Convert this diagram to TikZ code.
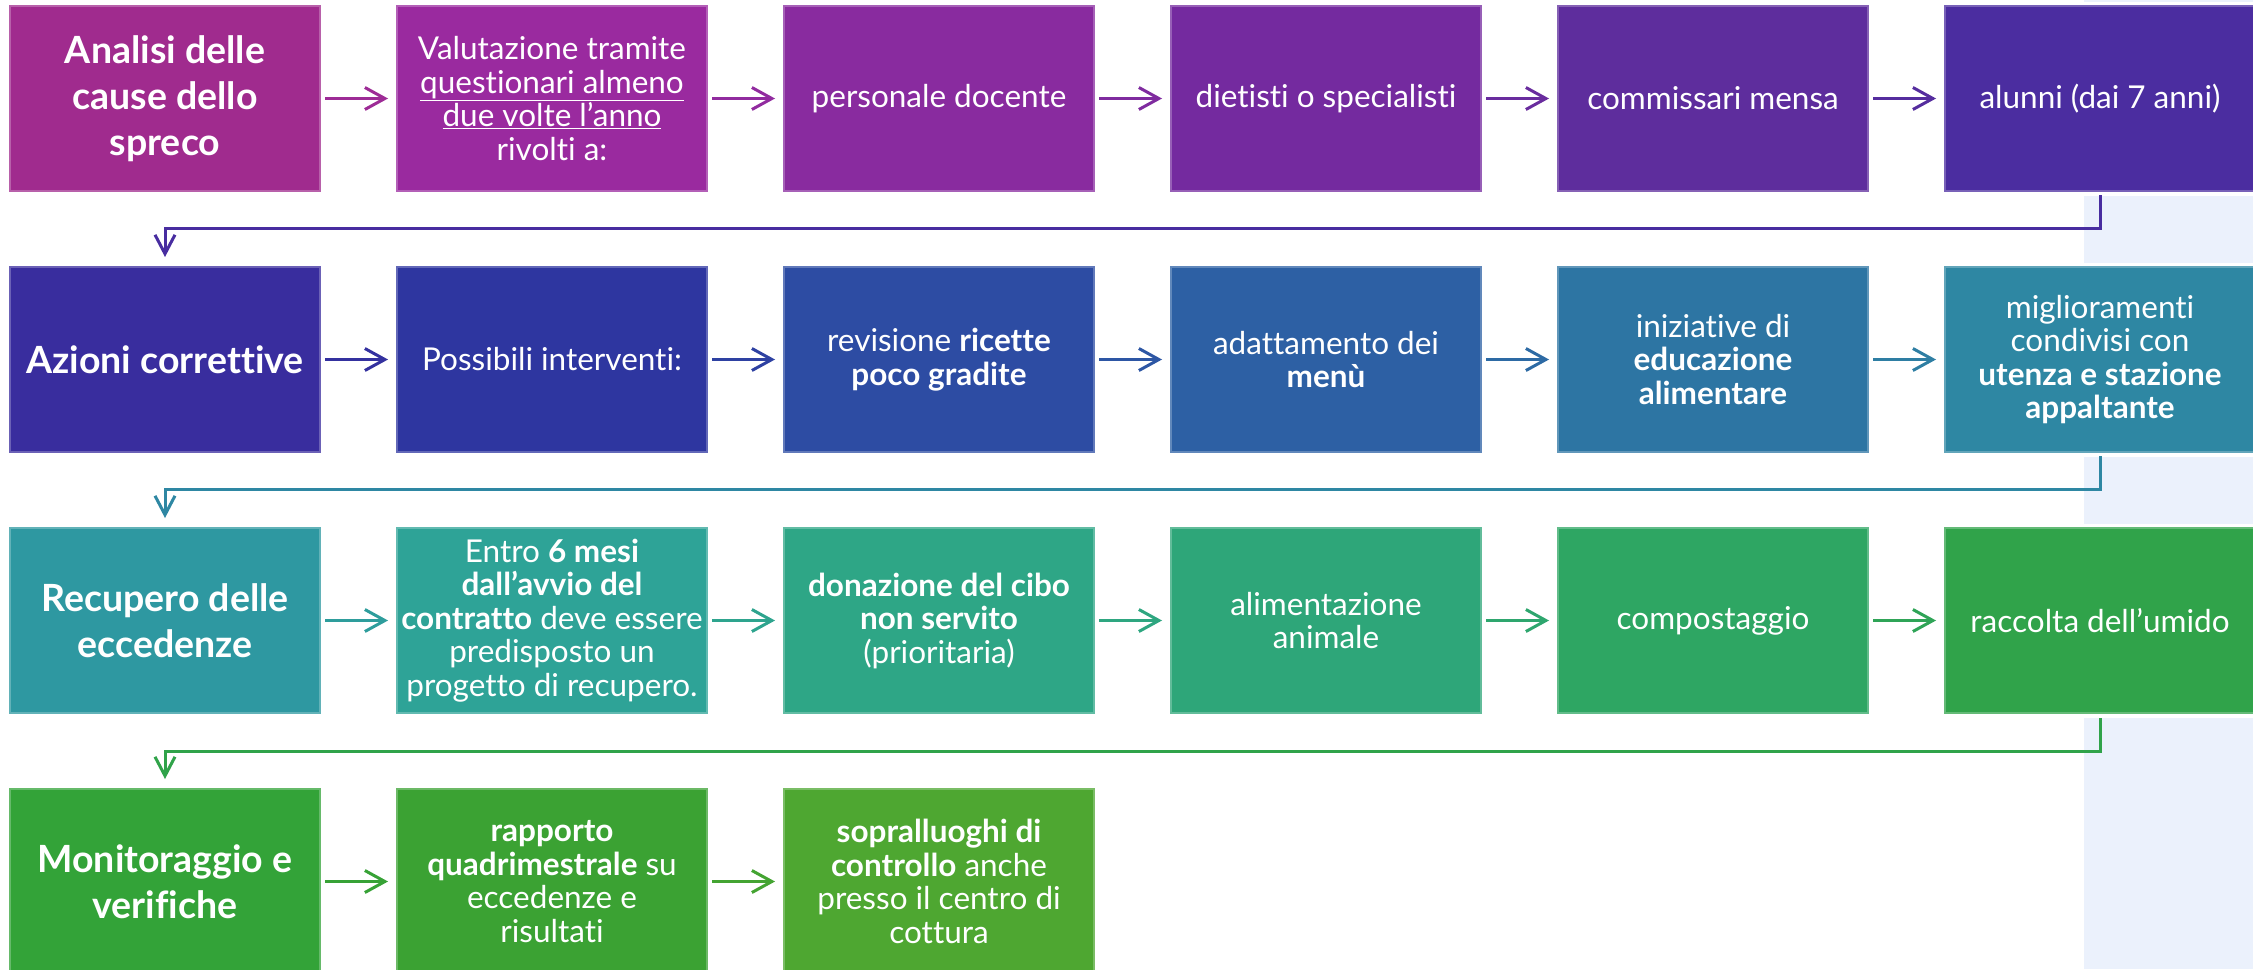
\documentclass[tikz,border=0pt]{standalone}
\usepackage{fontspec}
\setmainfont{Lato}[Ligatures={NoCommon,TeX}]
\usetikzlibrary{arrows.meta}
\definecolor{bgblue}{HTML}{EBF1FC}
\definecolor{ca1}{HTML}{A02B8E}
\definecolor{ca2}{HTML}{9A2A9F}
\definecolor{ca3}{HTML}{892B9F}
\definecolor{ca4}{HTML}{742A9F}
\definecolor{ca5}{HTML}{5E2D9D}
\definecolor{ca6}{HTML}{4B2DA0}
\definecolor{cb1}{HTML}{392D9E}
\definecolor{cb2}{HTML}{2E36A0}
\definecolor{cb3}{HTML}{2D4CA3}
\definecolor{cb4}{HTML}{2D60A4}
\definecolor{cb5}{HTML}{2D75A3}
\definecolor{cb6}{HTML}{2E87A3}
\definecolor{cc1}{HTML}{2E98A1}
\definecolor{cc2}{HTML}{2EA397}
\definecolor{cc3}{HTML}{2EA686}
\definecolor{cc4}{HTML}{2EA679}
\definecolor{cc5}{HTML}{2EA663}
\definecolor{cc6}{HTML}{30A34A}
\definecolor{cd1}{HTML}{33A338}
\definecolor{cd2}{HTML}{3BA233}
\definecolor{cd3}{HTML}{4EA731}
\tikzset{
  box/.style={rectangle, fill=#1, draw=#1!75!white, line width=1.5pt,
    preaction={draw=white, line width=9pt},
    minimum width=310pt, minimum height=185pt, inner sep=0pt, outer sep=0pt,
    text=white, align=center, font=\fontsize{31.5}{33.5}\selectfont},
  headbox/.style={box=#1, font=\bfseries\fontsize{37.5}{46}\selectfont},
  flow/.style={line width=3pt, -{Straight Barb[length=20pt,width=22pt]},
    shorten <=5pt, shorten >=9pt},
  jump/.style={line width=3pt, -{Straight Barb[length=19pt,width=20pt]},
    rounded corners=0pt}
}
\begin{document}
\begin{tikzpicture}[x=1pt,y=-1pt]
\useasboundingbox (0,0) rectangle (2253,969);
\clip (0,0) rectangle (2253,969);
\fill[white] (0,0) rectangle (2253,969);
\fill[bgblue] (2084,0) rectangle (2253,969);
% row 1
\node[headbox=ca1] (a1) at (165,98.5) {Analisi delle\\cause dello\\spreco};
\node[box=ca2] (a2) at (552,98.5) {Valutazione tramite\\\underline{questionari almeno}\\\underline{due volte l’anno}\\rivolti a:};
\node[box=ca3] (a3) at (939,98.5) {personale docente};
\node[box=ca4] (a4) at (1326,98.5) {dietisti o specialisti};
\node[box=ca5] (a5) at (1713,98.5) {commissari mensa};
\node[box=ca6] (a6) at (2100,98.5) {alunni (dai 7 anni)};
% row 2
\node[headbox=cb1] (b1) at (165,359.5) {Azioni correttive};
\node[box=cb2] (b2) at (552,359.5) {Possibili interventi:};
\node[box=cb3] (b3) at (939,359.5) {revisione \textbf{ricette}\\\textbf{poco gradite}};
\node[box=cb4] (b4) at (1326,359.5) {adattamento dei\\\textbf{menù}};
\node[box=cb5] (b5) at (1713,359.5) {iniziative di\\\textbf{educazione}\\\textbf{alimentare}};
\node[box=cb6] (b6) at (2100,359.5) {miglioramenti\\condivisi con\\\textbf{utenza e stazione}\\\textbf{appaltante}};
% row 3
\node[headbox=cc1] (c1) at (165,620.5) {Recupero delle\\eccedenze};
\node[box=cc2] (c2) at (552,620.5) {Entro \textbf{6 mesi}\\\textbf{dall’avvio del}\\\textbf{contratto} deve essere\\predisposto un\\progetto di recupero.};
\node[box=cc3] (c3) at (939,620.5) {\textbf{donazione del cibo}\\\textbf{non servito}\\(prioritaria)};
\node[box=cc4] (c4) at (1326,620.5) {alimentazione\\animale};
\node[box=cc5] (c5) at (1713,620.5) {compostaggio};
\node[box=cc6] (c6) at (2100,620.5) {raccolta dell’umido};
% row 4
\node[headbox=cd1] (d1) at (165,881.5) {Monitoraggio e\\verifiche};
\node[box=cd2] (d2) at (552,881.5) {\textbf{rapporto}\\\textbf{quadrimestrale} su\\eccedenze e\\risultati};
\node[box=cd3] (d3) at (939,881.5) {\textbf{sopralluoghi di}\\\textbf{controllo} anche\\presso il centro di\\cottura};
% horizontal arrows
\draw[flow, draw=ca1!50!ca2] (a1.east) -- (a2.west);
\draw[flow, draw=ca2!50!ca3] (a2.east) -- (a3.west);
\draw[flow, draw=ca3!50!ca4] (a3.east) -- (a4.west);
\draw[flow, draw=ca4!50!ca5] (a4.east) -- (a5.west);
\draw[flow, draw=ca5!50!ca6] (a5.east) -- (a6.west);
\draw[flow, draw=cb1!50!cb2] (b1.east) -- (b2.west);
\draw[flow, draw=cb2!50!cb3] (b2.east) -- (b3.west);
\draw[flow, draw=cb3!50!cb4] (b3.east) -- (b4.west);
\draw[flow, draw=cb4!50!cb5] (b4.east) -- (b5.west);
\draw[flow, draw=cb5!50!cb6] (b5.east) -- (b6.west);
\draw[flow, draw=cc1!50!cc2] (c1.east) -- (c2.west);
\draw[flow, draw=cc2!50!cc3] (c2.east) -- (c3.west);
\draw[flow, draw=cc3!50!cc4] (c3.east) -- (c4.west);
\draw[flow, draw=cc4!50!cc5] (c4.east) -- (c5.west);
\draw[flow, draw=cc5!50!cc6] (c5.east) -- (c6.west);
\draw[flow, draw=cd1!50!cd2] (d1.east) -- (d2.west);
\draw[flow, draw=cd2!50!cd3] (d2.east) -- (d3.west);
% row jumps
\draw[jump, draw=ca6!85!cb1, shorten <=4pt, shorten >=10pt] (a6.south) -- (2100,228) -| (b1.north);
\draw[jump, draw=cb6, shorten <=4pt, shorten >=10pt] (b6.south) -- (2100,489) -| (c1.north);
\draw[jump, draw=cc6, shorten <=5pt, shorten >=10pt] (c6.south) -- (2100,751) -| (d1.north);
\end{tikzpicture}
\end{document}
